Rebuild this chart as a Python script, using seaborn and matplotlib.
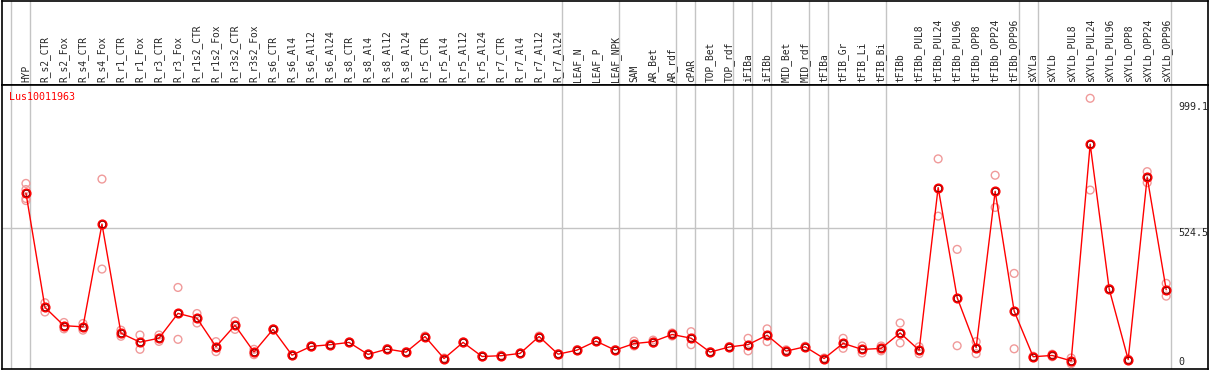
import pandas as pd
import numpy as np
import matplotlib
matplotlib.use("Agg")
import matplotlib.pyplot as plt
import matplotlib.transforms as mtransforms
import seaborn as sns

# sample names (header, left to right)
samples = ["HYP", "R_s2_CTR", "R_s2_Fox", "R_s4_CTR", "R_s4_Fox", "R_r1_CTR", "R_r1_Fox",
           "R_r3_CTR", "R_r3_Fox", "R_r1s2_CTR", "R_r1s2_Fox", "R_r3s2_CTR", "R_r3s2_Fox",
           "R_s6_CTR", "R_s6_Al4", "R_s6_Al12", "R_s6_Al24", "R_s8_CTR", "R_s8_Al4",
           "R_s8_Al12", "R_s8_Al24", "R_r5_CTR", "R_r5_Al4", "R_r5_Al12", "R_r5_Al24",
           "R_r7_CTR", "R_r7_Al4", "R_r7_Al12", "R_r7_Al24", "LEAF_N", "LEAF_P", "LEAF_NPK",
           "SAM", "AR_Bet", "AR_rdf", "cPAR", "TOP_Bet", "TOP_rdf", "iFIBa", "iFIBb",
           "MID_Bet", "MID_rdf", "tFIBa", "tFIB_Gr", "tFIB_Li", "tFIB_Bi", "tFIBb",
           "tFIBb_PUL8", "tFIBb_PUL24", "tFIBb_PUL96", "tFIBb_OPP8", "tFIBb_OPP24",
           "tFIBb_OPP96", "sXYLa", "sXYLb", "sXYLb_PUL8", "sXYLb_PUL24", "sXYLb_PUL96",
           "sXYLb_OPP8", "sXYLb_OPP24", "sXYLb_OPP96"]

# replicate expression values
rep1 = [699, 232, 155, 151, 716, 125, 106, 106, 292, 190, 80, 160, 50,
        130, 29, 64, 70, 79, 32, 53, 41, 102, 16, 79, 24,
        27, 36, 102, 33, 49, 84, 49, 82, 86, 114, 119, 41, 61, 93, 130,
        48, 62, 16, 93, 63, 63, 153, 60, 795, 441, 80, 731, 347,
        23, 31, 16, 1032, 288, 12, 745, 308]
rep2 = [632, 196, 130, 125, 364, 101, 50, 81, 89, 153, 41, 128, 29,
        126, 25, 59, 66, 75, 28, 49, 37, 98, 12, 75, 20,
        23, 32, 98, 29, 45, 80, 45, 63, 74, 102, 68, 37, 57, 44, 80,
        38, 58, 12, 54, 36, 44, 75, 33, 571, 64, 33, 605, 52,
        19, 21, -6, 673, 284, 8, 702, 258]
hyp_extra = [675, 640]

gene = "Lus10011963"
y_labels = [999.1, 524.5, 0]

# groups end after these samples (grey separators)
group_ends = ["HYP", "R_r7_Al24", "LEAF_NPK", "AR_rdf", "cPAR", "TOP_rdf", "iFIBa", "iFIBb",
              "MID_rdf", "tFIBa", "tFIB_Bi", "tFIBb_OPP96", "sXYLa", "sXYLb_OPP96"]

reps = pd.DataFrame({
    "sample": samples * 2 + ["HYP"] * len(hyp_extra),
    "value": rep1 + rep2 + hyp_extra,
})

sns.set_style("white")
plt.rcParams["font.family"] = ["DejaVu Sans Mono", "DejaVu Sans"]

W, H = 1209, 370
fig = plt.figure(figsize=(W / 100, H / 100), dpi=100)
ax_h = fig.add_axes([2 / W, (H - 85) / H, 1206 / W, 84 / H])
ax = fig.add_axes([2 / W, 1 / H, 1206 / W, 284 / H], sharex=ax_h)

red = "#ff0000"
pink = "#f09a9a"

sns.stripplot(data=reps, x="sample", y="value", order=samples, jitter=False,
              color=pink, size=5.6, linewidth=1.0, edgecolor=pink, ax=ax, zorder=3)
for coll in ax.collections:
    coll.set_facecolor("none")

sns.pointplot(data=reps, x="sample", y="value", order=samples, estimator="mean",
              errorbar=None, color=red, markers="o", linewidth=1.0, markersize=5.8,
              markerfacecolor="none", markeredgewidth=1.5, ax=ax, zorder=4)
# thin dark inner ring of the mean markers
sns.pointplot(data=reps, x="sample", y="value", order=samples, estimator="mean",
              errorbar=None, color="#700000", markers="o", linestyle="none",
              markersize=4.6, markerfacecolor="none", markeredgewidth=0.5, ax=ax, zorder=5)

ax.set_xlim(-1.26, 62.2)
ax.set_ylim(-27, 1084)
ax.set_xticks([])
ax.set_yticks([])
ax.set_xlabel("")
ax.set_ylabel("")
ax_h.set_yticks([])
ax_h.set_ylim(0, 1)

# separators
sep_pos = [-1] + [samples.index(s) for s in group_ends]
for a in (ax, ax_h):
    for p in sep_pos:
        a.axvline(p + 0.23, color="#c4c4c4", lw=1.0, zorder=1)
    for sp in a.spines.values():
        sp.set_color("black")
        sp.set_linewidth(1.2)
ax.axhline(524.5, color="#c4c4c4", lw=1.0, zorder=1)

for i, name in enumerate(samples):
    ax_h.text(i, 0.03, name, rotation=90, ha="center", va="bottom", fontsize=6.9)

ax.text(0.006, 0.958, gene, transform=ax.transAxes, color=red, fontsize=7.2,
        ha="left", va="center")

trans = mtransforms.blended_transform_factory(ax.transAxes, ax.transData)
for v in y_labels:
    ax.text(0.9755, v, "0" if v == 0 else str(v),
            transform=trans, fontsize=7.2, ha="left",
            va="top" if v == 524.5 else "center")

fig.savefig("out.png", dpi=100)
